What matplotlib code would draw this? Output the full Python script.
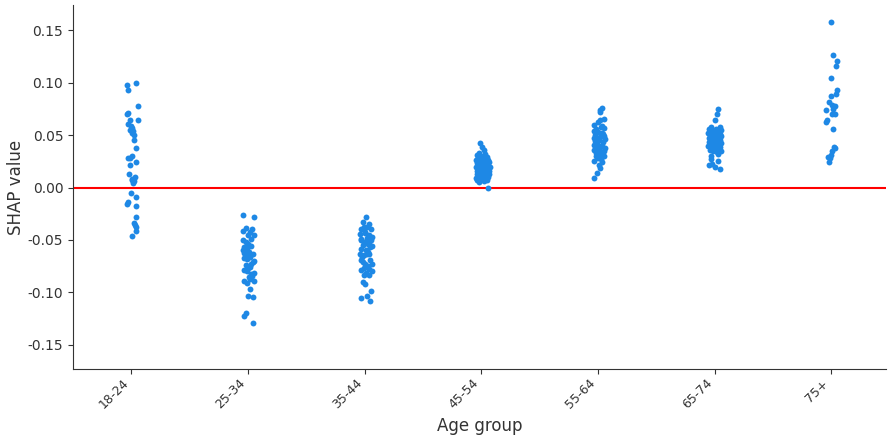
import matplotlib
matplotlib.use("Agg")
import matplotlib.pyplot as plt
import numpy as np

# age groups on the x axis
groups = ["18-24", "25-34", "35-44", "45-54", "55-64", "65-74", "75+"]

# SHAP values per group, with the horizontal jitter of each dot
shap_18_24 = [0.098, 0.100, 0.093, 0.078, 0.071, 0.070, 0.064, 0.064, 0.061, 0.059,
              0.057, 0.055, 0.054, 0.052, 0.050, 0.045, 0.038, 0.030, 0.028, 0.028,
              0.024, 0.021, 0.013, 0.010, 0.008, 0.007, 0.006, 0.004, -0.005, -0.009,
              -0.014, -0.016, -0.018, -0.028, -0.034, -0.036, -0.038, -0.041, -0.046]
jit_18_24 = [-0.037, 0.043, -0.026, 0.054, -0.026, -0.037, 0.054, -0.015, -0.032, 0.000,
             0.009, -0.009, 0.015, 0.003, 0.020, 0.026, 0.037, 0.009, -0.026, -0.009,
             0.037, -0.015, -0.020, 0.032, 0.009, 0.003, 0.020, 0.015, -0.003, 0.037,
             -0.026, -0.037, 0.043, 0.037, 0.020, 0.032, 0.037, 0.037, 0.003]

shap_25_34 = [-0.026, -0.028, -0.041, -0.039, -0.042, -0.040, -0.045, -0.049, -0.050, -0.052,
              -0.057, -0.059, -0.060, -0.063, -0.064, -0.066, -0.068, -0.070, -0.073, -0.076,
              -0.079, -0.080, -0.082, -0.089, -0.087, -0.089, -0.097, -0.103, -0.104, -0.120,
              -0.122, -0.129, -0.045, -0.054, -0.056, -0.062, -0.061, -0.071, -0.074, -0.077,
              -0.067, -0.084, -0.085, -0.091, -0.081]
jit_25_34 = [-0.043, 0.054, -0.043, -0.015, 0.015, 0.037, 0.054, 0.026, -0.043, -0.020,
             -0.037, -0.009, -0.043, 0.043, -0.020, 0.015, -0.009, 0.054, 0.026, 0.015,
             -0.037, -0.009, 0.026, -0.037, 0.015, 0.054, 0.020, -0.003, 0.043, -0.020,
             -0.037, 0.043, -0.003, 0.000, 0.030, -0.030, 0.005, 0.040, -0.020, 0.000,
             -0.035, 0.035, 0.010, -0.010, 0.050]

shap_35_44 = [-0.028, -0.033, -0.035, -0.040, -0.038, -0.038, -0.040, -0.044, -0.0435, -0.045,
              -0.047, -0.049, -0.048, -0.050, -0.052, -0.055, -0.054, -0.056, -0.059, -0.060,
              -0.057, -0.063, -0.063, -0.064, -0.0635, -0.069, -0.071, -0.073, -0.0746, -0.0727,
              -0.077, -0.078, -0.079, -0.080, -0.083, -0.083, -0.090, -0.092, -0.099, -0.103,
              -0.105, -0.108, -0.042, -0.061, -0.066, -0.069, -0.081, -0.050, -0.052]
jit_35_44 = [0.011, -0.017, 0.040, -0.034, -0.006, 0.023, 0.051, -0.040, 0.006, 0.040,
             0.063, -0.028, 0.017, 0.051, -0.006, -0.017, 0.028, 0.063, -0.034, 0.011,
             0.045, 0.017, -0.040, -0.006, 0.040, -0.028, -0.017, 0.006, 0.028, 0.063,
             -0.006, 0.040, -0.028, 0.063, -0.006, 0.040, -0.017, 0.000, 0.057, 0.023,
             -0.034, 0.045, 0.000, 0.030, -0.020, 0.050, 0.010, -0.030, 0.035]

shap_45_54 = [0.042, 0.039, 0.036, 0.033, 0.032, 0.031, 0.030, 0.029, 0.028, 0.027,
              0.026, 0.026, 0.025, 0.025, 0.024, 0.023, 0.023, 0.022, 0.021, 0.021,
              0.020, 0.020, 0.019, 0.019, 0.018, 0.018, 0.017, 0.016, 0.016, 0.015,
              0.015, 0.014, 0.013, 0.013, 0.012, 0.012, 0.011, 0.010, 0.010, 0.009,
              0.009, 0.008, 0.007, 0.007, 0.006, 0.005, 0.000]
jit_45_54 = [-0.009, 0.009, 0.020, -0.020, 0.030, -0.040, 0.000, 0.050, -0.030, 0.015,
             0.060, -0.045, 0.035, -0.010, 0.070, 0.005, -0.035, 0.045, -0.020, 0.025,
             0.075, -0.045, 0.010, 0.055, -0.030, 0.030, -0.005, 0.065, -0.040, 0.020,
             0.045, -0.015, 0.070, -0.035, 0.005, 0.040, -0.025, 0.060, 0.015, -0.045,
             0.035, -0.010, 0.050, -0.032, 0.020, -0.020, 0.060]

shap_55_64 = [0.076, 0.074, 0.072, 0.065, 0.064, 0.060, 0.059, 0.056, 0.057, 0.053,
              0.052, 0.050, 0.0495, 0.047, 0.048, 0.046, 0.041, 0.041, 0.040, 0.037,
              0.038, 0.036, 0.034, 0.030, 0.031, 0.030, 0.028, 0.025, 0.024, 0.021,
              0.019, 0.014, 0.0095, 0.054, 0.051, 0.045, 0.044, 0.043, 0.039, 0.033,
              0.035, 0.047, 0.027, 0.062, 0.058]
jit_55_64 = [0.037, 0.015, 0.020, 0.054, 0.015, -0.037, 0.037, -0.020, 0.054, 0.003,
             0.032, -0.026, 0.054, -0.009, 0.020, 0.060, -0.037, 0.003, 0.037, -0.009,
             0.060, -0.032, 0.026, -0.020, 0.015, 0.049, 0.003, -0.032, 0.037, 0.009,
             0.015, -0.009, -0.032, -0.030, 0.045, 0.010, -0.025, 0.040, 0.020, -0.015,
             0.050, -0.035, 0.030, 0.000, 0.025]

shap_65_74 = [0.075, 0.070, 0.064, 0.058, 0.058, 0.056, 0.056, 0.055, 0.054, 0.053,
              0.052, 0.052, 0.051, 0.050, 0.050, 0.049, 0.048, 0.048, 0.047, 0.046,
              0.045, 0.045, 0.044, 0.043, 0.043, 0.042, 0.041, 0.040, 0.040, 0.039,
              0.038, 0.038, 0.037, 0.036, 0.035, 0.035, 0.034, 0.030, 0.032, 0.027,
              0.0254, 0.022, 0.0216, 0.018, 0.0197]
jit_65_74 = [0.034, 0.023, 0.006, 0.045, -0.028, -0.050, 0.010, 0.055, -0.020, 0.030,
             -0.060, 0.000, 0.045, -0.035, 0.015, 0.060, -0.010, 0.035, -0.050, 0.020,
             -0.025, 0.050, 0.000, -0.045, 0.030, 0.060, -0.015, 0.015, -0.055, 0.045,
             -0.030, 0.005, 0.030, -0.040, 0.055, -0.010, 0.020, -0.034, 0.028, -0.034,
             0.034, -0.023, -0.045, 0.045, 0.006]

shap_75p = [0.158, 0.126, 0.121, 0.116, 0.1045, 0.093, 0.089, 0.087, 0.082, 0.079,
            0.078, 0.0746, 0.074, 0.070, 0.070, 0.064, 0.0626, 0.056, 0.039, 0.038,
            0.0346, 0.031, 0.0295, 0.028, 0.0245]
jit_75p = [0.003, 0.020, 0.054, 0.043, -0.003, 0.049, 0.043, 0.003, -0.015, 0.009,
           0.032, 0.020, -0.043, 0.037, 0.009, -0.037, -0.043, 0.015, 0.026, 0.037,
           0.009, -0.003, -0.026, -0.009, -0.020]

values = [shap_18_24, shap_25_34, shap_35_44, shap_45_54, shap_55_64, shap_65_74, shap_75p]
jitter = [jit_18_24, jit_25_34, jit_35_44, jit_45_54, jit_55_64, jit_65_74, jit_75p]

dot_color = "#1E88E5"
text_color = "#333333"

fig = plt.figure(figsize=(8.88, 4.38), dpi=100)
ax = fig.add_axes([0.0822, 0.1575, 0.9155, 0.8311])

for i, (vals, jit) in enumerate(zip(values, jitter)):
    xs = i + np.array(jit)
    ax.scatter(xs, vals, s=18, color=dot_color, linewidths=0, zorder=3)

ax.axhline(0, color="#ff0000", lw=1.5, zorder=2)

ax.set_xlim(-0.5, 6.47)
ax.set_ylim(-0.173, 0.174)
ax.set_xticks(range(len(groups)))
ax.set_xticklabels(groups, rotation=45, ha="right", fontsize=9)
yt = [-0.15, -0.10, -0.05, 0.0, 0.05, 0.10, 0.15]
ax.set_yticks(yt)
ax.set_yticklabels([f"{t:.2f}" for t in yt], fontsize=10)

ax.set_xlabel("Age group", fontsize=12, color=text_color, labelpad=4)
ax.set_ylabel("SHAP value", fontsize=12, color=text_color, labelpad=2)

ax.spines["top"].set_visible(False)
ax.spines["right"].set_visible(False)
ax.spines["left"].set_color(text_color)
ax.spines["bottom"].set_color(text_color)
ax.tick_params(colors=text_color, labelcolor=text_color, length=3.5)
ax.tick_params(axis="x", pad=2)

fig.savefig("out.png", dpi=100)
